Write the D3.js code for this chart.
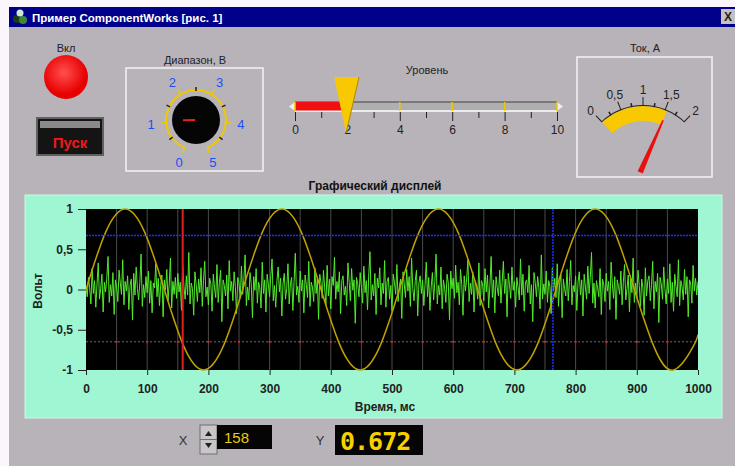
<!DOCTYPE html>
<html>
<head>
<meta charset="utf-8">
<script src="https://cdn.jsdelivr.net/npm/d3@7"></script>
<style>
  body { margin: 0; background: #fff; }
  svg { display: block; font-family: "Liberation Sans", Arial, sans-serif; }
</style>
</head>
<body>
<svg width="735" height="466"></svg>
<script>
// --- data ---
var timeTicks = [0, 100, 200, 300, 400, 500, 600, 700, 800, 900, 1000];
var voltTicks = [-1, -0.5, 0, 0.5, 1];
var gridTimes = [50, 100, 150, 200, 250, 300, 350, 400, 450, 500, 550, 600, 650, 700, 750, 800, 850, 900, 950];

// yellow sine, sampled every 32 ms
var sineTime = [0, 32, 64, 96, 128, 160, 192, 224, 256, 288, 320, 352, 384, 416, 448, 480,
  512, 544, 576, 608, 640, 672, 704, 736, 768, 800, 832, 864, 896, 928, 960, 992, 1000];
var sineVolts = [0, 0.71, 1, 0.71, 0, -0.71, -1, -0.71, 0, 0.71, 1, 0.71, 0, -0.71, -1, -0.71,
  0, 0.71, 1, 0.71, 0, -0.71, -1, -0.71, 0, 0.71, 1, 0.71, 0, -0.71, -1, -0.71, -0.56];

// green noisy signal, one value every 2 ms
var noiseStep = 2;
var noiseVolts = [
  .04,-.09,.15,.02,-.18,.26,-.05,.11,-.22,.07,.33,-.12,.01,.19,-.28,.09,-.03,.14,.41,-.16,.06,-.08,.21,-.31,.12,
  .03,-.15,.24,.08,-.06,.37,-.19,.10,-.02,.17,-.25,.05,.13,-.38,.20,-.07,.28,.01,-.13,.09,.44,-.21,.06,-.10,.16,
  -.04,.23,-.17,.11,-.29,.08,.02,.32,-.09,.14,-.20,.05,.18,-.34,.12,-.01,.25,-.14,.07,.39,-.23,.10,-.06,.15,-.11,
  .20,-.03,.09,-.26,.30,.04,-.12,.17,-.07,.46,-.18,.08,.01,-.32,.22,.06,-.15,.13,-.04,.27,-.21,.11,.35,-.09,.03,
  -.19,.14,.07,-.27,.19,.02,-.10,.31,-.16,.09,.24,-.40,.12,.05,-.08,.18,-.24,.36,-.02,.10,-.14,.22,.04,-.30,.15,
  .08,-.11,.29,-.06,.13,.43,-.20,.03,-.13,.21,.07,-.35,.16,-.01,.26,-.17,.09,.02,-.23,.34,-.05,.12,-.28,.19,.06,
  -.09,.17,.38,-.14,.05,-.22,.11,.28,-.03,.14,-.33,.08,.20,-.12,.01,.32,-.18,.07,.15,-.26,.10,.45,-.07,.04,-.16,
  .23,-.02,.12,-.29,.18,.06,-.10,.35,-.21,.09,.03,-.15,.27,-.05,.14,-.37,.19,.08,-.11,.24,.02,-.19,.30,-.08,.13,
  -.24,.16,.05,.40,-.12,.10,-.03,.22,-.30,.11,.17,-.07,.04,-.20,.33,.09,-.14,.26,-.01,.12,-.42,.15,.07,-.09,.21,
  .03,-.17,.29,-.04,.11,-.25,.18,.47,-.13,.06,-.08,.20,-.31,.14,.02,.27,-.19,.08,-.05,.36,-.22,.10,.15,-.12,.05,
  -.27,.19,.09,-.06,.31,-.15,.04,.13,-.36,.22,.07,-.10,.25,-.02,.16,-.21,.39,.01,-.14,.11,.24,-.33,.08,.17,-.05,
  .12,-.20,.06,.34,-.09,.15,-.26,.03,.21,-.13,.10,.44,-.18,.05,-.07,.28,-.24,.12,.02,-.16,.19,.08,-.38,.23,.01,
  .14,-.11,.30,-.04,.09,-.19,.25,.06,-.32,.17,-.02,.13,.37,-.15,.08,-.06,.22,-.28,.10,.04,-.12,.33,-.20,.11,.07,
  -.14,.26,-.03,.18,-.23,.05,.41,-.10,.12,-.29,.16,.02,-.08,.24,-.17,.09,.35,-.05,.13,-.34,.20,.06,-.11,.28,-.01,
  .10,-.22,.15,.03,-.13,.38,-.07,.19,-.27,.08,.12,-.04,.30,-.18,.06,-.40,.21,.09,-.09,.16,.02,-.24,.43,-.12,.07,
  -.06,.23,-.16,.11,.04,-.30,.27,-.02,.14,-.10,.32,-.21,.08,.18,-.35,.13,.01,-.08,.25,-.14,.10,.36,-.19,.05,-.03,
  .17,-.26,.09,.22,-.07,.12,-.33,.19,.03,-.12,.29,-.05,.15,.46,-.17,.08,-.23,.11,.02,-.09,.26,-.31,.13,.06,-.15,
  .20,-.02,.10,-.25,.34,.07,-.11,.16,-.37,.12,.04,-.06,.23,-.19,.09,.31,-.13,.01,.18,-.28,.14,-.04,.39,-.16,.08,
  -.10,.24,.05,-.21,.13,.02,-.32,.27,-.08,.11,.17,-.14,.06,.35,-.24,.10,-.03,.20,-.41,.15,.07,-.12,.28,.01,-.18,
  .13,-.05,.32,-.16,.09,-.27,.19,.04,-.09,.37,-.20,.11,.03,-.13,.25,-.06,.16,-.34,.12,.08,-.17,.30,-.02,.14,-.07,
  .10];

var cursorX = 158, cursorY = 0.672;       // readouts
var blueCursorX = 763, redCursorY = -0.65;

var levelTicks = [0, 1, 2, 3, 4, 5, 6, 7, 8, 9, 10];
var level = 1.95;

var knobTicks = [0, 1, 2, 3, 4, 5];
var knobMinor = [0.5, 1.5, 2.5, 3.5, 4.5];
var knobValue = 1.05;

var meterTicks = [0, 0.5, 1, 1.5, 2];
var meterMinor = [0.25, 0.75, 1.25, 1.75];
var current = 1.55;

var svg = d3.select("svg");
var comma = function (d) { return String(d).replace(".", ","); };

// --- window chrome ---
svg.append("rect").attr("width", 735).attr("height", 466).attr("fill", "#fbf6fb");
svg.append("rect").attr("x", 9).attr("y", 7).attr("width", 726).attr("height", 459).attr("fill", "#b8b3b9");
svg.append("rect").attr("x", 9).attr("y", 7).attr("width", 726).attr("height", 20).attr("fill", "#00008a");
var icon = svg.append("g").attr("transform", "translate(20,17)");
icon.append("circle").attr("cx", -3).attr("cy", 2).attr("r", 4).attr("fill", "#1a3a1a");
icon.append("circle").attr("cx", 3).attr("cy", 3).attr("r", 4).attr("fill", "#3a8a3a");
icon.append("circle").attr("cx", 0).attr("cy", -4).attr("r", 3.5).attr("fill", "#cfe8cf");
svg.append("text").attr("x", 32).attr("y", 21.5).attr("fill", "#fff")
  .attr("font-size", 11.5).attr("font-weight", "bold").text("Пример ComponentWorks [рис. 1]");
svg.append("rect").attr("x", 721).attr("y", 9).attr("width", 14).attr("height", 15).attr("fill", "#c4c0c4");
svg.append("text").attr("x", 728).attr("y", 21).attr("text-anchor", "middle")
  .attr("font-size", 12).attr("font-weight", "bold").attr("fill", "#222").text("X");

// --- LED and start button ---
var led = svg.append("defs").append("radialGradient").attr("id", "led").attr("cx", "45%").attr("cy", "40%");
led.append("stop").attr("offset", "0%").attr("stop-color", "#ff5050");
led.append("stop").attr("offset", "100%").attr("stop-color", "#e80000");
svg.append("text").attr("x", 66).attr("y", 52).attr("text-anchor", "middle").attr("font-size", 11).attr("fill", "#222").text("Вкл");
svg.append("circle").attr("cx", 66).attr("cy", 77).attr("r", 22).attr("fill", "url(#led)");
svg.append("rect").attr("x", 36).attr("y", 117).attr("width", 68).attr("height", 39).attr("fill", "#606060");
svg.append("rect").attr("x", 38).attr("y", 119).attr("width", 64).attr("height", 35).attr("fill", "#141414");
svg.append("rect").attr("x", 40).attr("y", 121).attr("width", 60).attr("height", 7).attr("fill", "#8a8a8a");
svg.append("text").attr("x", 70).attr("y", 148).attr("text-anchor", "middle").attr("font-size", 15)
  .attr("font-weight", "bold").attr("fill", "#f01818").text("Пуск");

// --- range knob ---
svg.append("text").attr("x", 195).attr("y", 64).attr("text-anchor", "middle").attr("font-size", 11).attr("fill", "#222").text("Диапазон, В");
svg.append("rect").attr("x", 126).attr("y", 68).attr("width", 137).attr("height", 103)
  .attr("fill", "none").attr("stroke", "#f4f4f4").attr("stroke-width", 1.5);
var kAng = d3.scaleLinear().domain([0, 5]).range([-158, 158]);
var rad = function (a) { return a * Math.PI / 180; };
var knob = svg.append("g").attr("transform", "translate(196,120)");
knob.append("path").attr("d", d3.arc()({ innerRadius: 29, outerRadius: 31, startAngle: rad(kAng(0)), endAngle: rad(kAng(5)) }))
  .attr("fill", "#f0c800");
knob.selectAll(".kt").data(knobTicks).join("line")
  .attr("transform", function (d) { return "rotate(" + kAng(d) + ")"; })
  .attr("y1", -30).attr("y2", -35).attr("stroke", "#f0c800").attr("stroke-width", 1.5);
knob.selectAll(".km").data(knobMinor).join("line")
  .attr("transform", function (d) { return "rotate(" + kAng(d) + ")"; })
  .attr("y1", -29).attr("y2", -33).attr("stroke", "#222").attr("stroke-width", 1.5);
knob.selectAll("text").data(knobTicks).join("text")
  .attr("x", function (d) { return 45 * Math.sin(rad(kAng(d))); })
  .attr("y", function (d) { return -45 * Math.cos(rad(kAng(d))) + 5; })
  .attr("text-anchor", "middle").attr("font-size", 13).attr("fill", "#2050f0").text(function (d) { return d; });
knob.append("circle").attr("r", 24).attr("fill", "#050505");
knob.append("line").attr("transform", "rotate(" + kAng(knobValue) + ")")
  .attr("y1", -1).attr("y2", -13).attr("stroke", "#e82020").attr("stroke-width", 2);

// --- level slider ---
var sx = d3.scaleLinear().domain([0, 10]).range([295, 557]);
svg.append("text").attr("x", 427).attr("y", 74).attr("text-anchor", "middle").attr("font-size", 11).attr("fill", "#222").text("Уровень");
svg.append("rect").attr("x", sx(0)).attr("y", 102).attr("width", sx(10) - sx(0)).attr("height", 9).attr("fill", "#b0aeb0");
svg.append("line").attr("x1", sx(0)).attr("x2", sx(10)).attr("y1", 102).attr("y2", 102).attr("stroke", "#404040");
svg.append("line").attr("x1", sx(0)).attr("x2", sx(10)).attr("y1", 111).attr("y2", 111).attr("stroke", "#fff").attr("stroke-width", 1.5);
svg.append("path").attr("d", "M" + (sx(0) - 6) + ",106.5L" + sx(0) + ",102L" + sx(0) + ",111Z").attr("fill", "#eee");
svg.append("path").attr("d", "M" + (sx(10) + 6) + ",106.5L" + sx(10) + ",102L" + sx(10) + ",111Z").attr("fill", "#eee");
svg.append("rect").attr("x", sx(0)).attr("y", 102).attr("width", sx(level) - sx(0)).attr("height", 8.5).attr("fill", "#f01010");
svg.selectAll(".lm").data(levelTicks.filter(function (d) { return d % 2 === 0; })).join("line")
  .attr("x1", sx).attr("x2", sx).attr("y1", 102).attr("y2", 111).attr("stroke", "#f0c800").attr("stroke-width", 1.5);
var sAxis = svg.append("g").attr("transform", "translate(0,112)")
  .call(d3.axisBottom(sx).tickValues(levelTicks).tickSize(8).tickPadding(5)
    .tickFormat(function (d) { return d % 2 === 0 ? d : ""; }));
sAxis.select(".domain").remove();
sAxis.selectAll("line").attr("stroke", "#222").attr("y2", function (d) { return d % 2 === 0 ? 9 : 6; });
sAxis.selectAll("text").attr("font-size", 12).attr("fill", "#222").attr("font-family", "Liberation Sans, Arial");
var px = sx(level);
svg.append("path").attr("d", "M" + (px - 12) + ",77L" + (px + 13) + ",77L" + px + ",133Z").attr("fill", "#f8c800");
svg.append("line").attr("x1", px + 13).attr("y1", 77).attr("x2", px).attr("y2", 133).attr("stroke", "#a88a00");

// --- current meter ---
svg.append("text").attr("x", 645).attr("y", 52).attr("text-anchor", "middle").attr("font-size", 11).attr("fill", "#222").text("Ток, А");
svg.append("rect").attr("x", 577).attr("y", 57).attr("width", 135).attr("height", 120)
  .attr("fill", "none").attr("stroke", "#f4f4f4").attr("stroke-width", 1.5);
var mAng = d3.scaleLinear().domain([0, 2]).range([-43, 43]);
var meter = svg.append("g").attr("transform", "translate(643,166)");
meter.append("path").attr("d", d3.arc()({ innerRadius: 45, outerRadius: 60, startAngle: rad(mAng(0)), endAngle: rad(mAng(current)) }))
  .attr("fill", "#f8c800");
meter.append("path").attr("d", d3.arc()({ innerRadius: 60, outerRadius: 61, startAngle: rad(mAng(0)), endAngle: rad(mAng(2)) }))
  .attr("fill", "#222");
meter.selectAll(".mt").data(meterTicks).join("line")
  .attr("transform", function (d) { return "rotate(" + mAng(d) + ")"; })
  .attr("y1", -60).attr("y2", -69).attr("stroke", "#222");
meter.selectAll(".mm").data(meterMinor).join("line")
  .attr("transform", function (d) { return "rotate(" + mAng(d) + ")"; })
  .attr("y1", -60).attr("y2", -64).attr("stroke", "#222").attr("stroke-width", 1.5);
meter.selectAll("text").data(meterTicks).join("text")
  .attr("x", function (d) { return 77 * Math.sin(rad(mAng(d))); })
  .attr("y", function (d) { return -77 * Math.cos(rad(mAng(d))) + 5; })
  .attr("text-anchor", "middle").attr("font-size", 12).attr("fill", "#222").text(comma);
meter.append("path").attr("transform", "rotate(" + mAng(current) + ")")
  .attr("d", "M-2.8,7L2.8,7L0.8,-50L-0.8,-50Z").attr("fill", "#e81010");

// --- graph display ---
svg.append("text").attr("x", 375).attr("y", 190).attr("text-anchor", "middle").attr("font-size", 12)
  .attr("font-weight", "bold").attr("fill", "#111").text("Графический дисплей");
svg.append("rect").attr("x", 25).attr("y", 195).attr("width", 697).attr("height", 223)
  .attr("fill", "#9ff6d2").attr("stroke", "#c8fbe6");

var x = d3.scaleLinear().domain([0, 1000]).range([86, 698]);
var y = d3.scaleLinear().domain([-1, 1]).range([370, 209]);

svg.append("rect").attr("x", x(0)).attr("y", y(1)).attr("width", x(1000) - x(0)).attr("height", y(-1) - y(1)).attr("fill", "#000");
svg.append("clipPath").attr("id", "plot").append("rect")
  .attr("x", x(0)).attr("y", y(1) - 1).attr("width", x(1000) - x(0)).attr("height", y(-1) - y(1) + 2);
var plot = svg.append("g").attr("clip-path", "url(#plot)");

plot.selectAll(".grid").data(gridTimes).join("line")
  .attr("x1", x).attr("x2", x).attr("y1", y(1)).attr("y2", y(-1)).attr("stroke", "#4a4a4a");
plot.append("line").attr("x1", x(0)).attr("x2", x(1000)).attr("y1", y(redCursorY)).attr("y2", y(redCursorY))
  .attr("stroke", "#6a6a6a").attr("stroke-dasharray", "2,2");
plot.selectAll(".rd").data(gridTimes).join("rect")
  .attr("x", function (d) { return x(d) - 1; }).attr("y", y(redCursorY) - 1).attr("width", 2).attr("height", 2).attr("fill", "#e02020");

plot.append("path").datum(noiseVolts)
  .attr("d", d3.line().x(function (d, i) { return x(i * noiseStep); }).y(function (d) { return y(d); }))
  .attr("fill", "none").attr("stroke", "#52ea2c").attr("stroke-width", 1);
plot.append("path").datum(d3.zip(sineTime, sineVolts))
  .attr("d", d3.line().x(function (d) { return x(d[0]); }).y(function (d) { return y(d[1]); }).curve(d3.curveNatural))
  .attr("fill", "none").attr("stroke", "#c2a200").attr("stroke-width", 1.5);

plot.append("line").attr("x1", x(0)).attr("x2", x(1000)).attr("y1", y(cursorY)).attr("y2", y(cursorY))
  .attr("stroke", "#1a30ff").attr("stroke-width", 1.5).attr("stroke-dasharray", "2,1");
plot.append("line").attr("x1", x(blueCursorX)).attr("x2", x(blueCursorX)).attr("y1", y(1)).attr("y2", y(-1))
  .attr("stroke", "#1a30ff").attr("stroke-width", 1.5).attr("stroke-dasharray", "2,1");
plot.append("line").attr("x1", x(cursorX)).attr("x2", x(cursorX)).attr("y1", y(1)).attr("y2", y(-1))
  .attr("stroke", "#e02020").attr("stroke-width", 2);

var yAxis = svg.append("g").attr("transform", "translate(" + x(0) + ",0)")
  .call(d3.axisLeft(y).tickValues(voltTicks).tickSize(8).tickPadding(5).tickFormat(comma));
var xAxis = svg.append("g").attr("transform", "translate(0," + y(-1) + ")")
  .call(d3.axisBottom(x).tickValues(timeTicks).tickSize(5).tickPadding(9).tickFormat(d3.format("d")));
[xAxis, yAxis].forEach(function (a) {
  a.select(".domain").remove();
  a.selectAll("line").attr("stroke", "#222");
  a.selectAll("text").attr("font-size", 12).attr("font-weight", "bold").attr("fill", "#222")
    .attr("font-family", "Liberation Sans, Arial");
});
svg.append("text").attr("x", 385).attr("y", 411).attr("text-anchor", "middle").attr("font-size", 12)
  .attr("font-weight", "bold").attr("fill", "#222").text("Время, мс");
svg.append("text").attr("transform", "translate(42,291) rotate(-90)").attr("text-anchor", "middle")
  .attr("font-size", 12).attr("font-weight", "bold").attr("fill", "#222").text("Вольт");

// --- cursor readouts ---
svg.append("text").attr("x", 183).attr("y", 445).attr("text-anchor", "middle").attr("font-size", 13).attr("fill", "#333").text("X");
svg.append("rect").attr("x", 200).attr("y", 425).attr("width", 17).attr("height", 29).attr("fill", "#c8c6c8").attr("stroke", "#707070");
svg.append("line").attr("x1", 200).attr("x2", 217).attr("y1", 439.5).attr("y2", 439.5).attr("stroke", "#707070");
svg.append("path").attr("d", "M205,436L208.5,431L212,436Z").attr("fill", "#222");
svg.append("path").attr("d", "M205,443L208.5,448L212,443Z").attr("fill", "#222");
svg.append("rect").attr("x", 217).attr("y", 425).attr("width", 55).attr("height", 24).attr("fill", "#050505");
svg.append("text").attr("x", 224).attr("y", 443).attr("font-size", 15).attr("fill", "#e8cc10").text(cursorX);
svg.append("text").attr("x", 320).attr("y", 445).attr("text-anchor", "middle").attr("font-size", 13).attr("fill", "#333").text("Y");
svg.append("rect").attr("x", 335).attr("y", 425).attr("width", 88).attr("height", 30).attr("fill", "#050505");
svg.append("text").attr("x", 340).attr("y", 450).attr("font-size", 25).attr("font-weight", "bold")
  .attr("font-family", "DejaVu Sans Mono, monospace").attr("letter-spacing", -1).attr("fill", "#f8d000").text(cursorY);
</script>
</body>
</html>
